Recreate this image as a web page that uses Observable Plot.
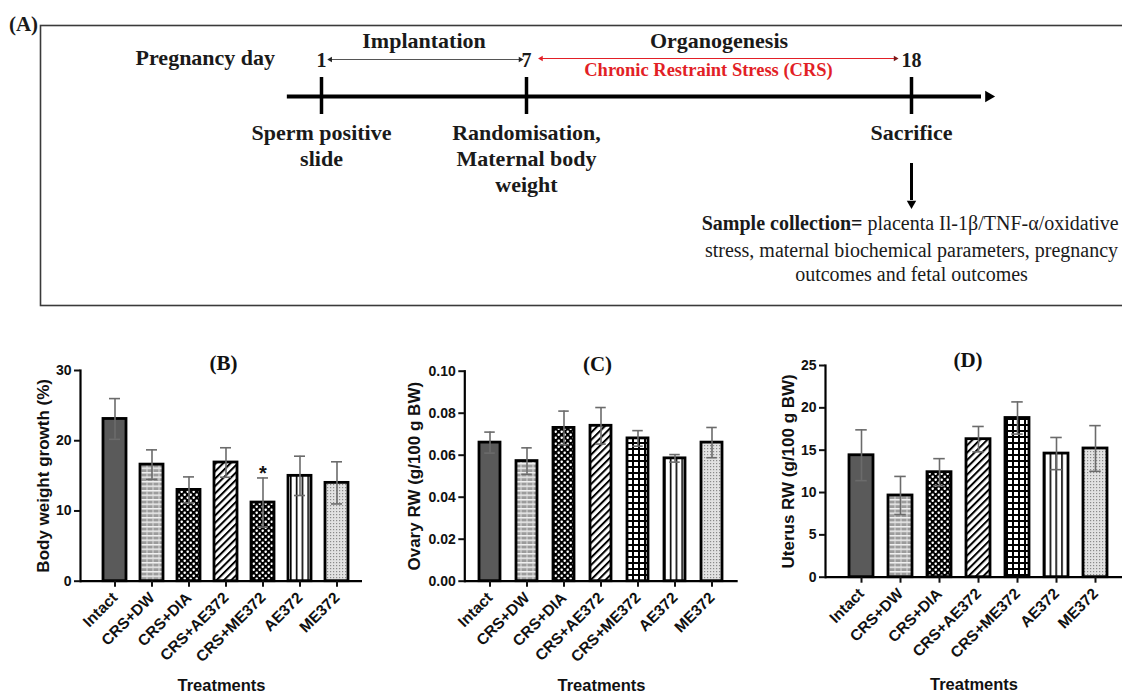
<!DOCTYPE html>
<html><head><meta charset="utf-8">
<script src="https://cdn.jsdelivr.net/npm/d3@7"></script>
<script src="https://cdn.jsdelivr.net/npm/@observablehq/plot@0.6"></script>
<style>
body{margin:0;background:#fff;}
#fig{position:relative;width:1122px;height:696px;overflow:hidden;background:#fff}
#fig > svg{position:absolute;}
</style></head><body>
<svg width="0" height="0" style="position:absolute">
<defs>
  <pattern id="p-brick" width="6" height="4.5" patternUnits="userSpaceOnUse">
    <rect width="6" height="4.5" fill="#9c9c9c"/>
    <rect y="0" width="6" height="1.5" fill="#f2f2f2"/>
    <rect x="2.5" y="1.5" width="1" height="3" fill="#dcdcdc"/>
  </pattern>
  <pattern id="p-check" width="6" height="6" patternUnits="userSpaceOnUse">
    <rect width="6" height="6" fill="#000"/>
    <rect x="0.5" y="0.5" width="2.4" height="2.4" rx="0.8" fill="#fff"/>
    <rect x="3.5" y="3.5" width="2.4" height="2.4" rx="0.8" fill="#fff"/>
  </pattern>
  <pattern id="p-diag" width="5.2" height="10" patternUnits="userSpaceOnUse" patternTransform="rotate(45)">
    <rect width="5.2" height="10" fill="#fff"/>
    <rect width="2" height="10" fill="#000"/>
  </pattern>
  <pattern id="p-grid" width="6" height="6" patternUnits="userSpaceOnUse">
    <rect width="6" height="6" fill="#000"/>
    <rect x="2" y="2" width="4" height="4" fill="#fff"/>
  </pattern>
  <pattern id="p-vstripe" width="5.8" height="10" patternUnits="userSpaceOnUse">
    <rect width="5.8" height="10" fill="#fff"/>
    <rect width="1.6" height="10" fill="#000"/>
  </pattern>
  <pattern id="p-dots" width="3" height="3" patternUnits="userSpaceOnUse">
    <rect width="3" height="3" fill="#e2e2e2"/>
    <rect width="1.2" height="1.2" fill="#8a8a8a"/>
  </pattern>
</defs></svg>
<div id="fig"></div>
<script>
// ---------------- DATA ----------------
const treatments = ["Intact","CRS+DW","CRS+DIA","CRS+AE372","CRS+ME372","AE372","ME372"];

const bodyWeightMean = [23.1, 16.6, 13.0, 16.9, 11.2, 15.0, 14.0];
const bodyWeightSD   = [2.9, 2.1, 1.85, 2.1, 3.5, 2.8, 3.0];
const bodyWeightSig  = ["", "", "", "", "*", "", ""];

const ovaryMean = [0.066, 0.0572, 0.073, 0.074, 0.068, 0.0585, 0.066];
const ovarySD   = [0.005, 0.0063, 0.008, 0.0087, 0.0037, 0.0018, 0.0072];
const ovarySig  = ["", "", "", "", "", "", ""];

const uterusMean = [14.4, 9.65, 12.4, 16.3, 18.8, 14.6, 15.2];
const uterusSD   = [3.0, 2.25, 1.6, 1.5, 1.9, 1.9, 2.7];
const uterusSig  = ["", "", "", "", "", "", ""];

const ticksB = [0, 10, 20, 30];
const ticksC = [0, 0.02, 0.04, 0.06, 0.08, 0.10];
const ticksD = [0, 5, 10, 15, 20, 25];

// Timeline (panel A)
const timelineDays   = [1, 7, 18];
const timelineEvents = ["Sperm positive\nslide", "Randomisation,\nMaternal body\nweight", "Sacrifice"];
const phaseFrom  = [1, 7];
const phaseTo    = [7, 18];
const phaseNames = ["Implantation", "Organogenesis"];
const stressLabel = "Chronic Restraint Stress (CRS)";
const sampleBold = "Sample collection=";
const sampleLine1 = "placenta Il-1β/TNF-α/oxidative";
const sampleRest = "stress, maternal biochemical parameters, pregnancy\noutcomes and fetal outcomes";

// ---------------- STYLE ----------------
const fillsB = ["#5a5a5a","url(#p-brick)","url(#p-check)","url(#p-diag)","url(#p-check)","url(#p-vstripe)","url(#p-dots)"];
const fillsCD = ["#5a5a5a","url(#p-brick)","url(#p-check)","url(#p-diag)","url(#p-grid)","url(#p-vstripe)","url(#p-dots)"];
const serif = "'Liberation Serif','Times New Roman',serif";
const sans = "'Liberation Sans',Arial,sans-serif";
const red = "#e21f26";

const fig = document.getElementById("fig");

// ---------------- PANEL A ----------------
const TL_Y = 96, NUM_Y = 60.5, ARROW_Y = 59;
const phases = phaseNames.map((n,i)=>({name:n, from:phaseFrom[i], to:phaseTo[i], mid:(phaseFrom[i]+phaseTo[i])/2}));
const days = timelineDays.map((d,i)=>({day:d, label:String(d), event:timelineEvents[i]}));

const blackArrow = [{x1: phases[0].from + 0.26, x2: phases[0].to - 0.18}];
const redArrow = [{x1: phases[1].from + 0.42, x2: phases[1].to - 0.46}];

const plotA = Plot.plot({
  width: 1122, height: 310,
  marginLeft: 40, marginTop: 25, marginBottom: 5, marginRight: -3,
  x: {type:"linear", domain: [1, 7, 18], range: [321, 526, 911], axis: null},
  y: {type:"linear", domain: [0, 310], range: [0, 310], axis: null},
  style: {background:"transparent", fontFamily: serif, overflow:"visible"},
  marks: [
    Plot.frame({stroke:"#3a3a3a", strokeWidth:1.6}),
    Plot.text(["(A)"], {frameAnchor:"top-left", dx:-17, dy:-1, textAnchor:"middle", lineAnchor:"middle", fontSize:21, fontWeight:"bold", fill:"#1a1a1a"}),
    Plot.text(["Pregnancy day"], {x: -2.4, y: 57, fontSize:22, fontWeight:"bold", fill:"#1a1a1a"}),
    // main timeline
    Plot.ruleY([TL_Y], {x1: 0, x2: 20.0, strokeWidth: 4, stroke:"#000"}),
    Plot.dot([20.2], {x: d=>d, y: TL_Y, symbol:"triangle2", r:5.5, rotate:90, fill:"#000", stroke:null}),
    Plot.ruleX(days, {x:"day", y1: 77, y2: 114, strokeWidth: 3.5, stroke:"#000"}),
    Plot.text(days, {x:"day", y: NUM_Y, text:"label", fontSize:20, fontWeight:"bold", fill:"#1a1a1a"}),
    // phases
    Plot.text(phases, {x:"mid", y: 40, text:"name", fontSize:22, fontWeight:"bold", fill:"#1a1a1a"}),
    Plot.link(blackArrow, {x1:"x1", x2:"x2", y1: ARROW_Y, y2: ARROW_Y, stroke:"#555", strokeWidth:1}),
    Plot.dot(blackArrow, {x:"x1", y: ARROW_Y, symbol:"triangle2", r:2.6, rotate:-90, fill:"#222", stroke:null}),
    Plot.dot(blackArrow, {x:"x2", y: ARROW_Y, symbol:"triangle2", r:2.6, rotate:90, fill:"#222", stroke:null}),
    Plot.link(redArrow, {x1:"x1", x2:"x2", y1: ARROW_Y-1, y2: ARROW_Y-1, stroke:red, strokeWidth:1}),
    Plot.dot(redArrow, {x:"x1", y: ARROW_Y-1, symbol:"triangle2", r:2.6, rotate:-90, fill:red, stroke:null}),
    Plot.dot(redArrow, {x:"x2", y: ARROW_Y-1, symbol:"triangle2", r:2.6, rotate:90, fill:"#7a1a1a", stroke:null}),
    Plot.text([stressLabel], {x: phases[1].mid - 0.3, y: 70, fontSize:18.5, fontWeight:"bold", fill:red}),
    // events
    Plot.text(days, {x:"day", y: 121, text:"event", lineAnchor:"top", lineHeight:1.18, fontSize:22, fontWeight:"bold", fill:"#1a1a1a"}),
    // sacrifice arrow
    Plot.ruleX([18], {x: d=>d, y1: 163, y2: 200, strokeWidth: 3, stroke:"#000"}),
    Plot.dot([18], {x: d=>d, y: 203, symbol:"triangle2", r:4.5, rotate:180, fill:"#000", stroke:null}),
    Plot.text([sampleBold], {x: 18, y: 223.5, dx: -49, textAnchor:"end", fontSize:20, fontWeight:"bold", fill:"#1a1a1a"}),
    Plot.text([sampleLine1], {x: 18, y: 223.5, dx: -44, textAnchor:"start", fontSize:20, fill:"#1a1a1a"}),
    Plot.text([sampleRest], {x: 18, y: 239, lineAnchor:"top", lineHeight:1.2, fontSize:20, fill:"#1a1a1a"})
  ]
});
plotA.style.left = "0px"; plotA.style.top = "0px";
fig.appendChild(plotA);

// ---------------- BAR PANELS ----------------
function barPanel(o) {
  const W = 374, H = 386;
  const data = treatments.map((t,i)=>({t, m:o.means[i], sd:o.sds[i], fill:o.fills[i], sig:o.sig[i]}));
  const p = 1 - o.bw/o.step;
  const r0 = o.firstCenter - o.bw/2;
  const r1 = r0 + o.step*(treatments.length - p);
  const cap = (o.bw - 11)/2;
  const svg = Plot.plot({
    width: W, height: H,
    marginLeft: o.axisX, marginRight: W - o.frameRight, marginTop: o.yTop, marginBottom: H - o.y0,
    x: {type:"band", domain: treatments, range:[r0, r1], paddingInner: p, paddingOuter: 0},
    y: {domain: o.yDomain},
    color: {type:"identity"},
    style: {background:"transparent", fontFamily: sans, fontWeight:"bold", overflow:"visible", color:"#111"},
    marks: [
      Plot.barY(data, {x:"t", y:"m", fill:"fill", stroke:"#000", strokeWidth:2.8}),
      Plot.ruleX(data, {x:"t", y1: d=>d.m-d.sd, y2: d=>d.m+d.sd, stroke:"#6b6b6b", strokeWidth:1.6}),
      Plot.tickY(data, {x:"t", y: d=>d.m+d.sd, insetLeft:cap, insetRight:cap, stroke:"#6b6b6b", strokeWidth:1.6}),
      Plot.tickY(data, {x:"t", y: d=>d.m-d.sd, insetLeft:cap, insetRight:cap, stroke:"#6b6b6b", strokeWidth:1.6}),
      Plot.text(data.filter(d=>d.sig), {x:"t", y: d=>d.m+d.sd, text:"sig", dy:-4, fontSize:20, fill:"#111"}),
      Plot.ruleY([0], {strokeWidth:2.2, stroke:"#000"}),
      Plot.frame({anchor:"left", strokeWidth:2.2, stroke:"#000"}),
      Plot.axisY({ticks:o.yTicks, tickFormat:o.yFormat, tickSize:6, tickPadding:3, fontSize:14, strokeWidth:2, label:null}),
      Plot.axisX({tickRotate:-45, tickSize:6, tickPadding:8, fontSize:15.5, strokeWidth:2, label:null}),
      Plot.text([o.ylabel], {frameAnchor:"left", rotate:-90, dx: o.ylabelDx, textAnchor:"middle", lineAnchor:"middle", fontSize:17, fill:"#111"}),
      Plot.text(["Treatments"], {frameAnchor:"bottom", dy: o.treatDy, lineAnchor:"middle", fontSize:16.5, fill:"#111"}),
      Plot.text([o.title], {frameAnchor:"top", dx: o.titleDx, dy: o.titleDy, lineAnchor:"middle", fontSize:21, fontFamily: serif, fill:"#111"})
    ]
  });
  svg.style.left = o.left + "px"; svg.style.top = "310px";
  fig.appendChild(svg);
}

barPanel({left:0, means:bodyWeightMean, sds:bodyWeightSD, sig:bodyWeightSig, fills:fillsB,
  title:"(B)", ylabel:"Body weight growth (%)", yDomain:[0,30], yTicks:ticksB, yFormat:d3.format("d"),
  axisX:80, frameRight:362, y0:270.7, yTop:60, firstCenter:113.5, step:37.35, bw:23,
  ylabelDx:-37, treatDy:105, titleDx:2, titleDy:-7});

barPanel({left:374, means:ovaryMean, sds:ovarySD, sig:ovarySig, fills:fillsCD,
  title:"(C)", ylabel:"Ovary RW (g/100 g BW)", yDomain:[0,0.10], yTicks:ticksC, yFormat:d3.format(".2f"),
  axisX:90.3, frameRight:363.7, y0:270.7, yTop:60.7, firstCenter:114.3, step:37.33, bw:21.5,
  ylabelDx:-50, treatDy:105, titleDx:-4, titleDy:-7});

barPanel({left:748, means:uterusMean, sds:uterusSD, sig:uterusSig, fills:fillsCD,
  title:"(D)", ylabel:"Uterus RW (g/100 g BW)", yDomain:[0,25], yTicks:ticksD, yFormat:d3.format("d"),
  axisX:77, frameRight:374, y0:266.7, yTop:55, firstCenter:113, step:39, bw:23.5,
  ylabelDx:-37, treatDy:108, titleDx:-6, titleDy:-5});
</script>
</body></html>
